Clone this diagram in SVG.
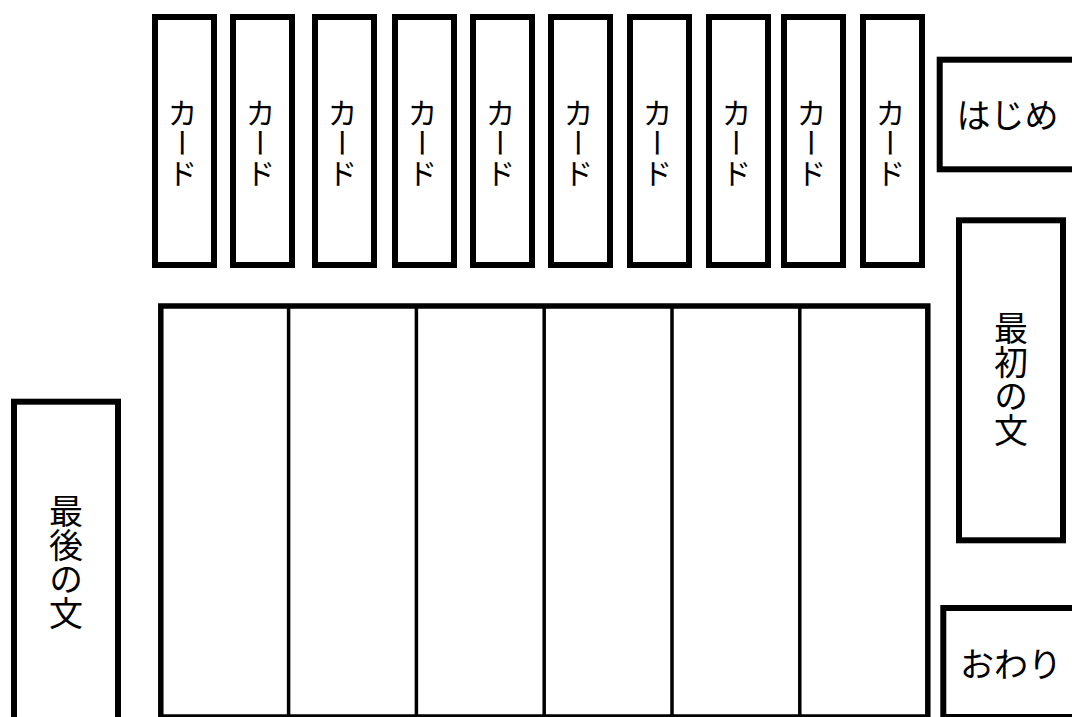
<svg xmlns="http://www.w3.org/2000/svg" width="1072" height="717" viewBox="0 0 1072 717">
<style>
.box{fill:#fff;stroke:#000;stroke-width:6}
.tbl{fill:#fff;stroke:#000;stroke-width:5.5}
.col{stroke:#000;stroke-width:3.5}
.t{font-family:"Noto Sans CJK JP","Noto Sans",sans-serif;fill:#000}
.v{writing-mode:vertical-rl;text-anchor:middle}
.card{font-size:30px}
.big{font-size:34px}
</style>
<rect width="1072" height="717" fill="#fff"/>
<g id="card1"><rect class="box" x="155" y="17" width="59" height="248"/><text class="t v card" x="182.5" y="142.5">カード</text></g>
<g id="card2"><rect class="box" x="233" y="17" width="59" height="248"/><text class="t v card" x="260.5" y="142.5">カード</text></g>
<g id="card3"><rect class="box" x="315" y="17" width="59" height="248"/><text class="t v card" x="342.5" y="142.5">カード</text></g>
<g id="card4"><rect class="box" x="395" y="17" width="59" height="248"/><text class="t v card" x="422.5" y="142.5">カード</text></g>
<g id="card5"><rect class="box" x="473" y="17" width="59" height="248"/><text class="t v card" x="500.5" y="142.5">カード</text></g>
<g id="card6"><rect class="box" x="551" y="17" width="59" height="248"/><text class="t v card" x="578.5" y="142.5">カード</text></g>
<g id="card7"><rect class="box" x="630" y="17" width="59" height="248"/><text class="t v card" x="657.5" y="142.5">カード</text></g>
<g id="card8"><rect class="box" x="709" y="17" width="59" height="248"/><text class="t v card" x="736.5" y="142.5">カード</text></g>
<g id="card9"><rect class="box" x="784" y="17" width="59" height="248"/><text class="t v card" x="811.5" y="142.5">カード</text></g>
<g id="card10"><rect class="box" x="863" y="17" width="59" height="248"/><text class="t v card" x="890.5" y="142.5">カード</text></g>
<g id="hajime"><rect class="box" x="939.7" y="59.7" width="160" height="109.6"/><text class="t big" x="1007.5" y="128" text-anchor="middle">はじめ</text></g>
<g id="saisho"><rect class="box" x="959" y="220.3" width="104" height="320"/><text class="t v big" x="1011" y="379">最初の文</text></g>
<g id="owari"><rect class="box" x="943.3" y="608" width="160" height="109"/><text class="t big" x="1011" y="677" text-anchor="middle">おわり</text></g>
<g id="saigo"><rect class="box" x="14" y="401.7" width="104" height="330"/><text class="t v big" x="66" y="562.5">最後の文</text></g>
<g id="table">
<rect class="tbl" x="160.8" y="306" width="767" height="411"/>
<line class="col" x1="288.6" y1="306" x2="288.6" y2="717"/>
<line class="col" x1="416.4" y1="306" x2="416.4" y2="717"/>
<line class="col" x1="544.2" y1="306" x2="544.2" y2="717"/>
<line class="col" x1="672" y1="306" x2="672" y2="717"/>
<line class="col" x1="799.8" y1="306" x2="799.8" y2="717"/>
</g>
<g id="connectors"/>
</svg>
